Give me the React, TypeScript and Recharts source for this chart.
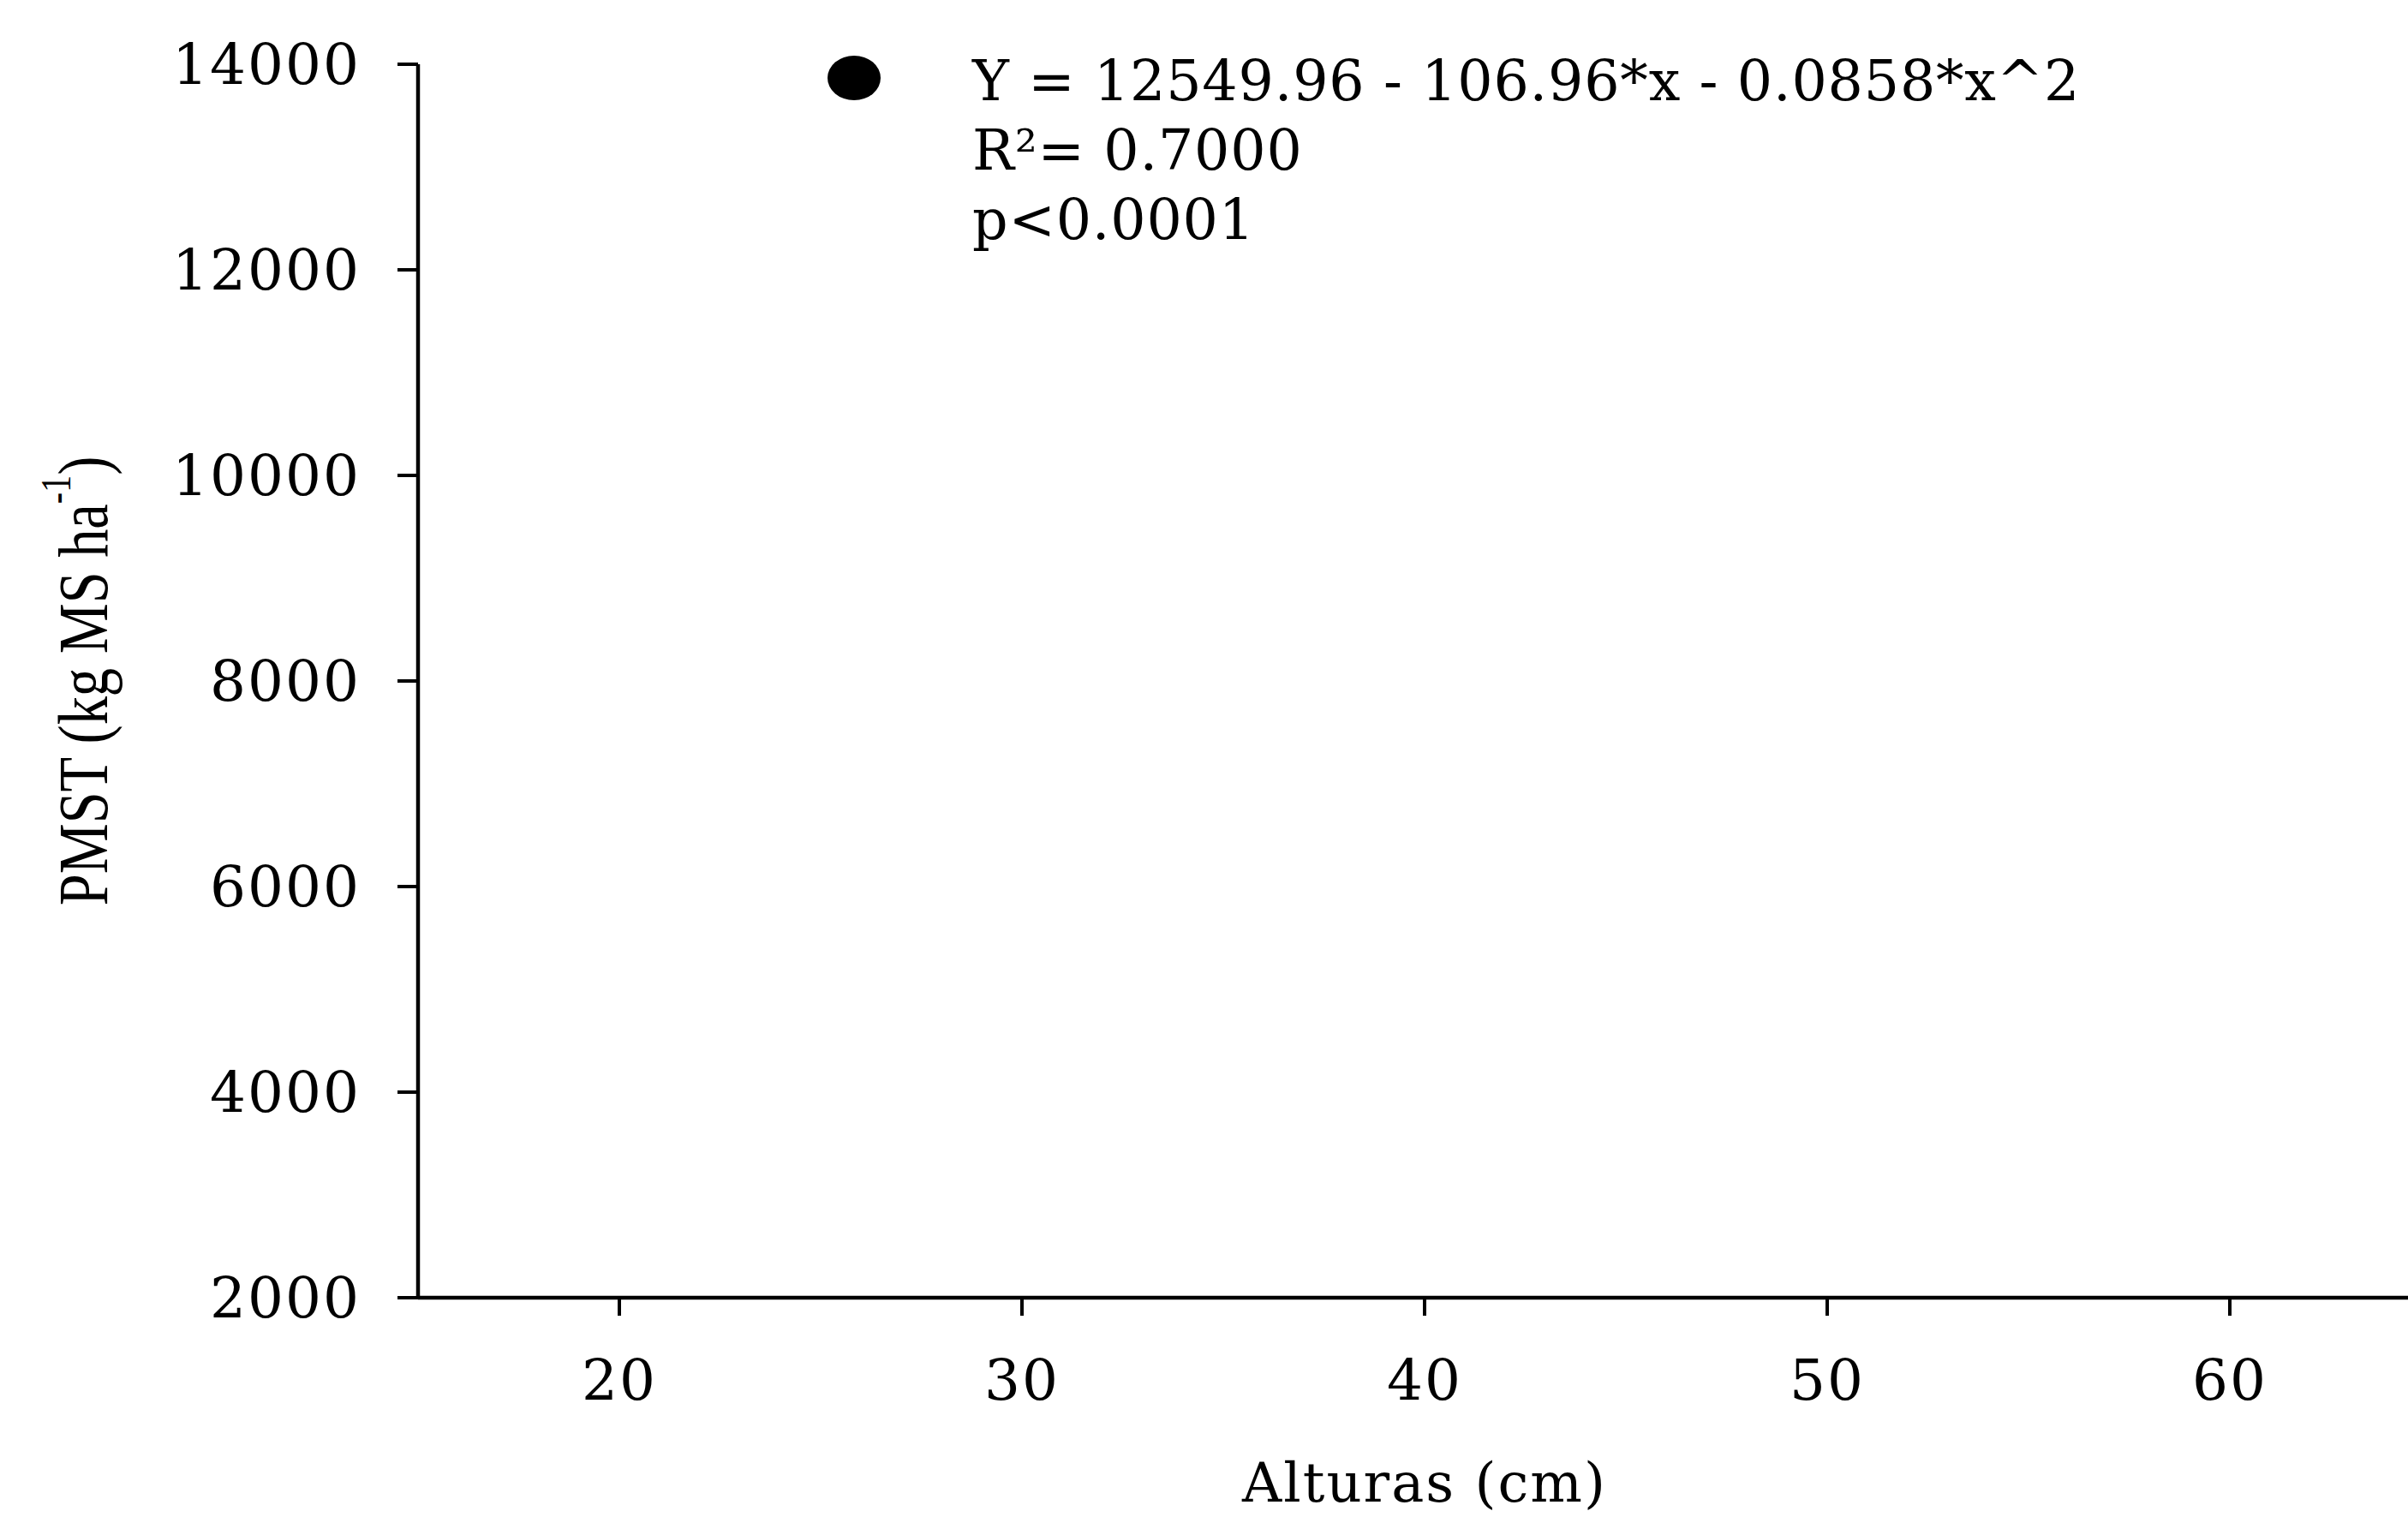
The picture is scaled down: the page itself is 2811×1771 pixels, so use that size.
import { Label, Legend, Scatter, ScatterChart, XAxis, YAxis } from "recharts";

// no observed points are drawn in the figure, only the fitted equation in the legend
const alturas: number[] = [];
const pmst: number[] = [];

const xTicks = [20, 30, 40, 50, 60];
const yTicks = [2000, 4000, 6000, 8000, 10000, 12000, 14000];

const equationLines = [
  "Y = 12549.96 - 106.96*x - 0.0858*x^2",
  "R²= 0.7000",
  "p<0.0001",
];

const points = alturas.map((x, i) => ({ x, y: pmst[i] }));

const serif = "'DejaVu Serif', serif";
const tickStyle = {
  fontFamily: serif,
  fontSize: 66,
  fill: "#000",
  letterSpacing: 2,
};

function YTitle(props: any) {
  const { viewBox } = props;
  const cx = viewBox.x + 125;
  const cy = viewBox.y + viewBox.height / 2;
  return (
    <text
      transform={`translate(${cx}, ${cy}) rotate(-90) scale(0.8, 1)`}
      textAnchor="middle"
      fontFamily="'Liberation Serif', serif"
      fontSize={83}
      fill="#000"
    >
      PMST (kg MS ha
      <tspan dy={-43} fontSize={50}>
        -1
      </tspan>
      <tspan dy={43}>)</tspan>
    </text>
  );
}

function LegendBox() {
  return (
    <div style={{ position: "relative", height: 300 }}>
      <svg
        width={62}
        height={52}
        style={{ position: "absolute", left: 966, top: 65 }}
      >
        <ellipse cx={31} cy={26} rx={31} ry={26} fill="#000" />
      </svg>
      <div
        style={{
          position: "absolute",
          left: 1135,
          top: 54,
          fontFamily: serif,
          fontSize: 65,
          letterSpacing: 0.8,
          lineHeight: "81px",
          whiteSpace: "pre",
          color: "#000",
        }}
      >
        {equationLines.map((l) => (
          <div key={l}>{l}</div>
        ))}
      </div>
    </div>
  );
}

export default function App() {
  return (
    <div
      style={{
        position: "absolute",
        left: 0,
        top: 0,
        width: 2811,
        height: 1771,
        overflow: "hidden",
        background: "#fff",
      }}
    >
      <ScatterChart
        width={2838}
        height={1771}
        margin={{ top: 75, right: 0, bottom: 0, left: 0 }}
      >
        <XAxis
          type="number"
          dataKey="x"
          domain={[15, 65]}
          ticks={xTicks}
          allowDataOverflow
          height={256}
          tickSize={21}
          tickMargin={51}
          axisLine={{ stroke: "#000", strokeWidth: 4.5 }}
          tickLine={{ stroke: "#000", strokeWidth: 4 }}
          tick={tickStyle}
        >
          <Label
            value="Alturas (cm)"
            position="insideBottom"
            offset={18}
            fill="#000"
            fontSize={64}
            letterSpacing={2}
            fontFamily={serif}
          />
        </XAxis>
        <YAxis
          type="number"
          dataKey="y"
          domain={[2000, 14000]}
          ticks={yTicks}
          allowDataOverflow
          width={488}
          tickSize={24}
          tickMargin={43}
          axisLine={{ stroke: "#000", strokeWidth: 4.5 }}
          tickLine={{ stroke: "#000", strokeWidth: 4 }}
          tick={tickStyle}
        >
          <Label content={YTitle} />
        </YAxis>
        <Legend
          layout="horizontal"
          verticalAlign="middle"
          align="center"
          wrapperStyle={{ top: 0, left: 0 }}
          content={() => <LegendBox />}
        />
        <Scatter
          name={equationLines[0]}
          data={points}
          fill="#000"
          isAnimationActive={false}
        />
      </ScatterChart>
    </div>
  );
}
